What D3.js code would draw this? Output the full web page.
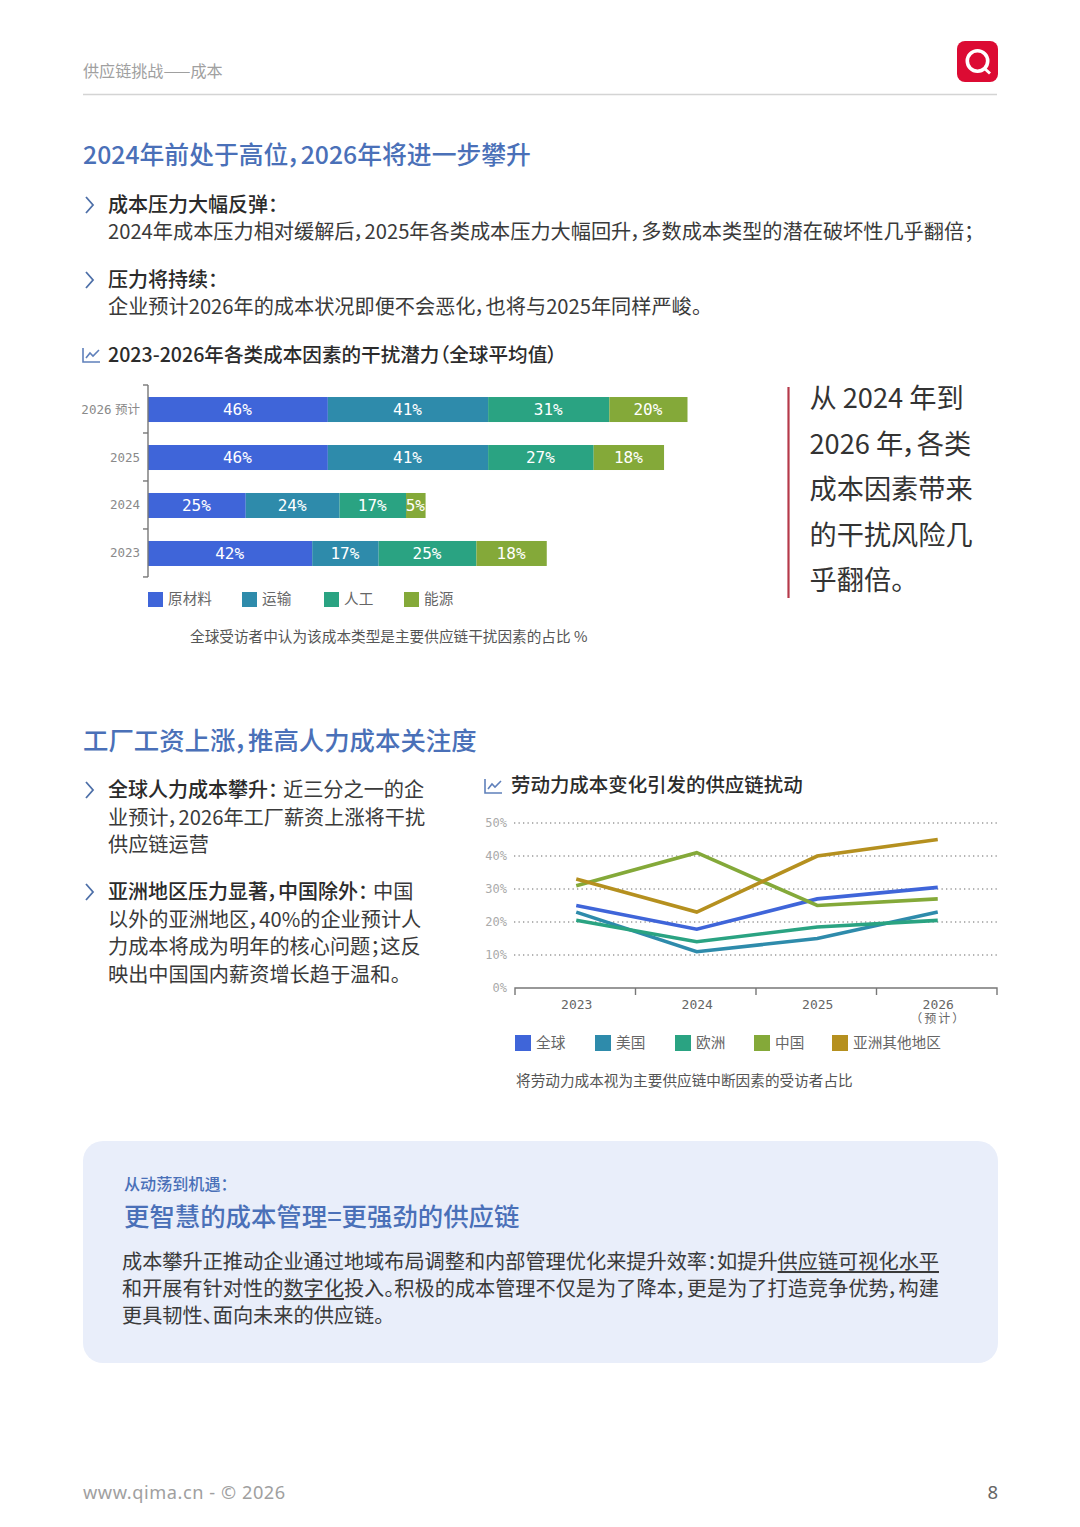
<!DOCTYPE html>
<html><head><meta charset="utf-8">
<script src="https://cdn.jsdelivr.net/npm/d3@7"></script>
<style>
html,body{margin:0;padding:0;background:#fff}
svg{display:block}
text{font-family:"Noto Sans CJK SC","Noto Sans",sans-serif;font-feature-settings:"palt";white-space:pre}
.mono{font-family:"DejaVu Sans Mono",monospace;font-feature-settings:normal}
</style></head><body>
<svg id="c" width="1080" height="1527"></svg>
<script>
const barCategories=["2026 预计","2025","2024","2023"];
const barSeriesNames=["原材料","运输","人工","能源"];
const rawMaterial=[46,46,25,42];
const transport=[41,41,24,17];
const labour=[31,27,17,25];
const energy=[20,18,5,18];

const lineYears=["2023","2024","2025","2026"];
const lineSeriesNames=["全球","美国","欧洲","中国","亚洲其他地区"];
const globalLine=[25,17.8,27,30.5];
const usLine=[23,11,15,23];
const europeLine=[20.5,14,18.5,20.5];
const chinaLine=[31,41,25,27];
const otherAsiaLine=[33,23,40,45];
const yTicks=[0,10,20,30,40,50];

const colors=["#3f65d9","#2e8bab","#2aa382","#84a939","#b5901f"];
const titleBlue="#4a70b8", ink="#2b2b2b", body="#3a3a3a", grey="#8a8a8a";
const svg=d3.select("#c");

function T(x,y,str,size,fill,weight,anchor,cls){
  return svg.append("text").attr("x",x).attr("y",y).attr("font-size",size)
    .attr("fill",fill).attr("font-weight",weight||400).attr("text-anchor",anchor||"start")
    .attr("class",cls||null).text(str);
}
function chevron(x,y){
  svg.append("path").attr("d",`M${x},${y-8}L${x+7},${y}L${x},${y+8}`).attr("fill","none")
    .attr("stroke","#4d6fa8").attr("stroke-width",1.8);
}
function chartIcon(x,y){
  svg.append("path").attr("d",`M${x},${y-14}V${y}H${x+17}`).attr("fill","none").attr("stroke","#5f80bb").attr("stroke-width",1.6);
  svg.append("path").attr("d",`M${x+3},${y-4}L${x+7},${y-9}L${x+10},${y-6}L${x+16},${y-12}`).attr("fill","none").attr("stroke","#5f80bb").attr("stroke-width",1.6);
}

// header
T(83,77,"供应链挑战——成本",16.1,"#a0a0a0");
svg.append("line").attr("x1",83).attr("x2",997).attr("y1",94.5).attr("y2",94.5).attr("stroke","#d4d4d4").attr("stroke-width",1.5);
svg.append("rect").attr("x",957).attr("y",41).attr("width",41).attr("height",41).attr("rx",8).attr("fill","#dc0b33");
svg.append("circle").attr("cx",977.5).attr("cy",61).attr("r",10.2).attr("fill","none").attr("stroke","#fff").attr("stroke-width",3.6);
svg.append("line").attr("x1",984).attr("y1",68).attr("x2",990).attr("y2",73.5).attr("stroke","#fff").attr("stroke-width",3);

// section 1
T(83,164,"2024年前处于高位，2026年将进一步攀升",24.8,titleBlue,500);
chevron(86,205);
T(108,212,"成本压力大幅反弹：",20,ink,500);
T(108,239,"2024年成本压力相对缓解后，2025年各类成本压力大幅回升，多数成本类型的潜在破坏性几乎翻倍；",20.18,body);
chevron(86,280);
T(108,287,"压力将持续：",20,ink,500);
T(108,314,"企业预计2026年的成本状况即便不会恶化，也将与2025年同样严峻。",20.18,body);
chartIcon(83,362);
T(108,362,"2023-2026年各类成本因素的干扰潜力（全球平均值）",19.6,ink,500);

// stacked bars
const barRows=barCategories.map((c,i)=>({c,vals:[rawMaterial[i],transport[i],labour[i],energy[i]]}));
const by=d3.scaleBand().domain(barCategories).range([385.5,577.5]).paddingInner(0.479).paddingOuter(0.24);
const bx=d3.scaleLinear().domain([0,138]).range([148,687.5]);
const barG=svg.append("g");
barRows.forEach(r=>{
  let acc=0;
  r.vals.forEach((v,k)=>{
    barG.append("rect").attr("x",bx(acc)).attr("y",by(r.c)).attr("width",bx(acc+v)-bx(acc)).attr("height",by.bandwidth()).attr("fill",colors[k]);
    T((bx(acc)+bx(acc+v))/2-0.5,by(r.c)+by.bandwidth()/2+5.5,v+"%",16,"#fff",400,"middle","mono");
    acc+=v;
  });
});
const yAxis=d3.axisLeft(by).tickSize(0).tickPadding(8);
const ya=svg.append("g").attr("transform","translate(148,0)").call(yAxis);
ya.select(".domain").remove();
ya.selectAll("text").attr("class","mono").attr("font-size",12.5).attr("fill",grey).style("word-spacing","-4px").style("font-family",'"DejaVu Sans Mono","Noto Sans CJK SC",monospace');
svg.append("line").attr("x1",148).attr("x2",148).attr("y1",385).attr("y2",577).attr("stroke","#777").attr("stroke-width",1.4);
d3.range(5).forEach(i=>{
  const y=385+i*by.step();
  svg.append("line").attr("x1",143).attr("x2",148).attr("y1",y).attr("y2",y).attr("stroke","#777").attr("stroke-width",1.4);
});
// bar legend
[148,242,324,404].forEach((x,i)=>{
  svg.append("rect").attr("x",x).attr("y",592).attr("width",15).attr("height",15).attr("fill",colors[i]);
  T(x+20,604,barSeriesNames[i],14.65,"#666");
});
T(190,641.5,"全球受访者中认为该成本类型是主要供应链干扰因素的占比 %",14.65,"#555");

// callout
svg.append("line").attr("x1",788.5).attr("x2",788.5).attr("y1",387).attr("y2",598).attr("stroke","#b5394a").attr("stroke-width",2.2);
["从 2024 年到","2026 年，各类","成本因素带来","的干扰风险几","乎翻倍。"].forEach((s,i)=>T(809.5,408+i*45.5,s,27.2,"#333"));

// section 2
T(83,750,"工厂工资上涨，推高人力成本关注度",25.4,titleBlue,500);
chevron(86,790);
{
 const t=T(108,797,"全球人力成本攀升：",20,ink,500);
 t.append("tspan").attr("dx",5).attr("font-weight",400).attr("fill",body).attr("font-size",20.18).text("近三分之一的企");
}
T(108,825,"业预计，2026年工厂薪资上涨将干扰",20.18,body);
T(108,852,"供应链运营",20.18,body);
chevron(86,892);
{
 const t=T(108,899,"亚洲地区压力显著，中国除外：",20,ink,500);
 t.append("tspan").attr("dx",5).attr("font-weight",400).attr("fill",body).attr("font-size",20.18).text("中国");
}
T(108,927,"以外的亚洲地区，40%的企业预计人",20.18,body);
T(108,954,"力成本将成为明年的核心问题；这反",20.18,body);
T(108,982,"映出中国国内薪资增长趋于温和。",20.18,body);

chartIcon(485,793);
T(511,792,"劳动力成本变化引发的供应链扰动",19.45,ink,500);

// line chart
const lx=d3.scalePoint().domain(lineYears).range([516,998]).padding(0.5);
const ly=d3.scaleLinear().domain([0,50]).range([988,823]);
const lineData=[globalLine,usLine,europeLine,chinaLine,otherAsiaLine];
const yAx=svg.append("g").attr("transform","translate(510,0)")
  .call(d3.axisLeft(ly).tickValues(yTicks).tickSize(0).tickFormat(d=>d+"%"));
yAx.select(".domain").remove();
yAx.selectAll("text").attr("class","mono").attr("font-size",12).attr("fill","#aaa");
yTicks.filter(d=>d>0).forEach(d=>{
  svg.append("line").attr("x1",514).attr("x2",998).attr("y1",ly(d)).attr("y2",ly(d))
   .attr("stroke","#9a9a9a").attr("stroke-width",1.3).attr("stroke-dasharray","1.3 3.2");
});
svg.append("path").attr("d","M515,995V988H997V995").attr("fill","none").attr("stroke","#777").attr("stroke-width",1.4);
d3.range(1,4).forEach(i=>{
  const xp=515+i*lx.step();
  svg.append("line").attr("x1",xp).attr("x2",xp).attr("y1",988).attr("y2",995).attr("stroke","#777").attr("stroke-width",1.4);
});
const xAx=svg.append("g").attr("transform","translate(0,988)")
  .call(d3.axisBottom(lx).tickSize(0).tickPadding(12));
xAx.select(".domain").remove();
xAx.selectAll("text").attr("class","mono").attr("font-size",13).attr("fill","#666");
xAx.selectAll("text").filter(d=>d==="2026").append("tspan").attr("x",0).attr("dy",14)
  .attr("font-size",12).style("letter-spacing","2px").style("font-family",'"Noto Sans CJK SC",sans-serif').text("（预计）");
const lineGen=d3.line().x((d,i)=>lx(lineYears[i])).y(d=>ly(d));
lineData.forEach((s,i)=>{
  svg.append("path").attr("d",lineGen(s)).attr("fill","none").attr("stroke",colors[i]).attr("stroke-width",3.6).attr("stroke-linejoin","miter");
});
[515,595,675,754,832].forEach((x,i)=>{
  svg.append("rect").attr("x",x).attr("y",1035).attr("width",16).attr("height",16).attr("fill",colors[i]);
  T(x+21,1047.5,lineSeriesNames[i],14.65,"#666");
});
T(516,1085.5,"将劳动力成本视为主要供应链中断因素的受访者占比",14.65,"#555");

// callout box
svg.append("rect").attr("x",83).attr("y",1141).attr("width",915).attr("height",222).attr("rx",20).attr("fill","#e9eefa");
T(124,1190,"从动荡到机遇：",16.1,titleBlue,500);
T(124,1226,"更智慧的成本管理=更强劲的供应链",25.4,titleBlue,500);
{
 const a=T(122,1269,"成本攀升正推动企业通过地域布局调整和内部管理优化来提升效率：如提升",20.18,body);
 a.append("tspan").attr("text-decoration","underline").text("供应链可视化水平");
 const b=T(122,1296,"和开展有针对性的",20.18,body);
 b.append("tspan").attr("text-decoration","underline").text("数字化");
 b.append("tspan").text("投入。积极的成本管理不仅是为了降本，更是为了打造竞争优势，构建");
 T(122,1323,"更具韧性、面向未来的供应链。",20.18,body);
}

// footer
T(83,1499,"www.qima.cn - © 2026",18.2,"#a0a0a0",400,"start").style("font-family",'"Noto Sans",sans-serif').style("letter-spacing","0.55px");
T(998,1499,"8",18.5,"#666",400,"end").style("font-family",'"Noto Sans",sans-serif');
</script>
</body></html>
